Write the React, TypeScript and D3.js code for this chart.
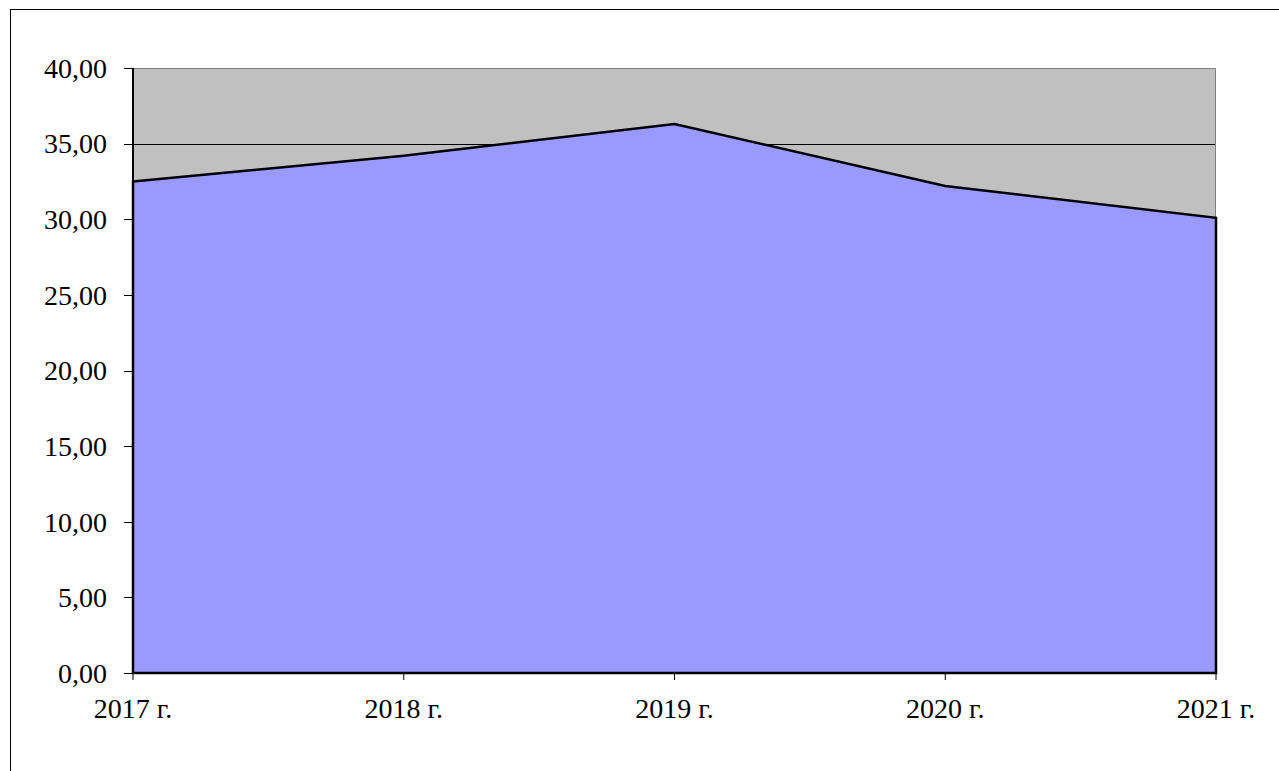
import { useEffect, useRef } from 'react';
import * as d3 from 'd3';

const years = ['2017 г.', '2018 г.', '2019 г.', '2020 г.', '2021 г.'];
const values = [32.5, 34.2, 36.3, 32.2, 30.1];
const yTicks = [0, 5, 10, 15, 20, 25, 30, 35, 40];

const W = 1279;
const H = 771;
const margin = { top: 68, right: 63, bottom: 98, left: 133 };

export default function App() {
	const svgRef = useRef<SVGSVGElement>(null);

	useEffect(() => {
		const svg = d3.select(svgRef.current);
		svg.selectAll('*').remove();

		const width = W - margin.left - margin.right;
		const height = H - margin.top - margin.bottom;
		const font = '"Liberation Serif", "Times New Roman", serif';

		// outer chart border (only top/left visible in frame)
		svg.append('rect')
			.attr('x', 10.5).attr('y', 9.5)
			.attr('width', W).attr('height', H)
			.attr('fill', 'white').attr('stroke', 'black');

		const g = svg.append('g')
			.attr('transform', `translate(${margin.left}, ${margin.top})`);

		const x = d3.scalePoint<string>()
			.domain(years)
			.range([0, width]);

		const y = d3.scaleLinear()
			.domain([0, 40])
			.range([height, 0]);

		g.append('rect')
			.attr('width', width).attr('height', height)
			.attr('fill', '#C0C0C0');

		g.selectAll('line.grid')
			.data(yTicks.filter(t => t > 0 && t < 40))
			.join('line')
			.attr('class', 'grid')
			.attr('x1', 0).attr('x2', width)
			.attr('y1', d => Math.round(y(d)) + 0.5)
			.attr('y2', d => Math.round(y(d)) + 0.5)
			.attr('stroke', 'black');

		// plot border top/right in gray
		g.append('path')
			.attr('d', `M0.5,0.5H${width - 0.5}V${height}`)
			.attr('fill', 'none').attr('stroke', '#808080');

		const area = d3.area<number>()
			.x((_, i) => x(years[i]) as number)
			.y0(y(0))
			.y1(d => y(d));

		g.append('path')
			.datum(values)
			.attr('d', area)
			.attr('fill', '#9999FF')
			.attr('stroke', 'black')
			.attr('stroke-width', 2.5);

		// y axis
		const yAxis = g.append('g');
		yAxis.append('line')
			.attr('x1', 0).attr('x2', 0)
			.attr('y1', 0).attr('y2', height)
			.attr('stroke', 'black').attr('stroke-width', 2);
		yAxis.selectAll('line.tick')
			.data(yTicks)
			.join('line')
			.attr('class', 'tick')
			.attr('x1', -9).attr('x2', 0)
			.attr('y1', d => Math.round(y(d)) + 0.5)
			.attr('y2', d => Math.round(y(d)) + 0.5)
			.attr('stroke', 'black');
		yAxis.selectAll('text')
			.data(yTicks)
			.join('text')
			.attr('x', -26)
			.attr('y', d => y(d))
			.attr('dy', '0.35em')
			.attr('text-anchor', 'end')
			.style('font-family', font)
			.style('font-size', '28px')
			.text(d => d3.format('.2f')(d).replace('.', ','));

		// x axis
		const xAxis = g.append('g').attr('transform', `translate(0, ${height})`);
		xAxis.append('line')
			.attr('x1', 0).attr('x2', width)
			.attr('stroke', 'black').attr('stroke-width', 2);
		xAxis.selectAll('line.tick')
			.data(years)
			.join('line')
			.attr('class', 'tick')
			.attr('x1', d => x(d) as number).attr('x2', d => x(d) as number)
			.attr('y1', 0).attr('y2', 7)
			.attr('stroke', 'black');
		xAxis.selectAll('text')
			.data(years)
			.join('text')
			.attr('x', d => x(d) as number)
			.attr('y', 45)
			.attr('text-anchor', 'middle')
			.style('font-family', font)
			.style('font-size', '28px')
			.text(d => d);
	}, []);

	return (
		<svg
			ref={svgRef}
			width={W}
			height={H}
			style={{ position: 'absolute', left: 0, top: 0 }}
		/>
	);
}
